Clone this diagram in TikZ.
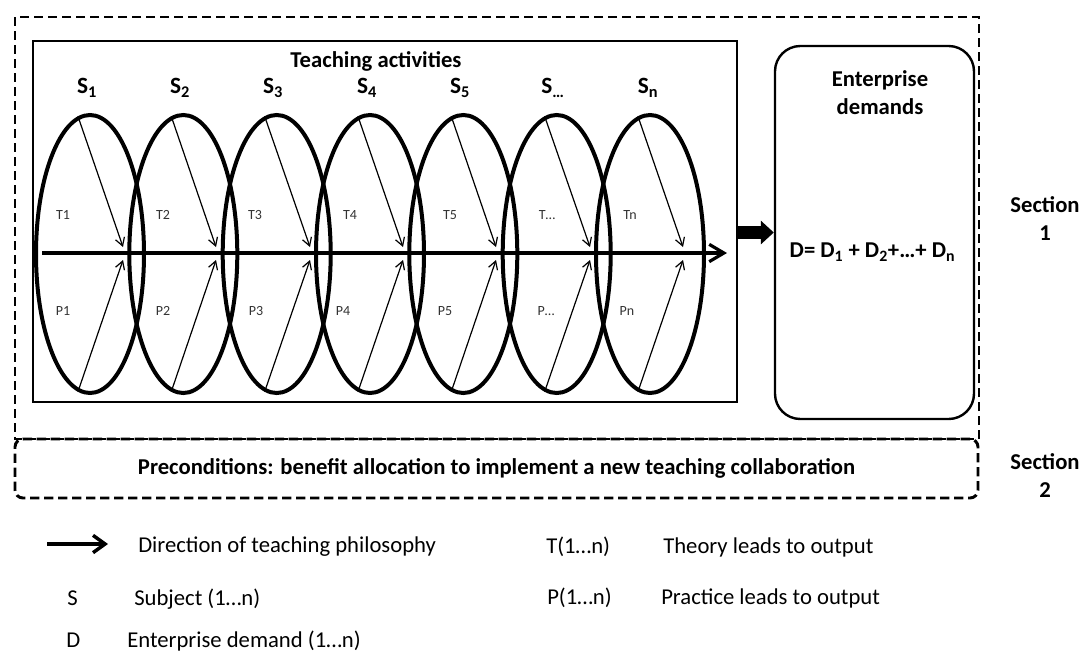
\documentclass[tikz,border=0pt]{standalone}
\usepackage{fontspec}
\setmainfont{Carlito}
\usetikzlibrary{shapes.geometric,arrows.meta}

\tikzset{
  subj/.style={draw, ellipse, line width=3pt, minimum width=81pt, minimum height=208.5pt, inner sep=0pt},
  leadarrow/.style={line width=0.9pt, -{Straight Barb[length=6pt,width=7pt]}},
  lbl/.style={inner sep=0.75pt, font=\fontsize{10.5}{12}\selectfont, text=black!80},
  head/.style={inner sep=0.75pt, font=\fontsize{17}{21}\selectfont\bfseries, align=center},
  subjlbl/.style={inner sep=0.75pt, font=\fontsize{17.5}{20}\selectfont\bfseries},
  legend/.style={anchor=base west, inner sep=0.75pt, font=\fontsize{17}{20}\selectfont},
  dashbox/.style={draw, line width=2.2pt, dash pattern=on 7pt off 3.5pt},
}

\begin{document}
\begin{tikzpicture}[x=0.75pt,y=0.75pt,yscale=-1,xscale=1]
\useasboundingbox (0,0) rectangle (1089,651);

%Section 1 frame
\draw [dashbox] (15,17) rectangle (979,439) ;
%Section 2 frame
\node [dashbox, rounded corners=6pt, minimum width=722.25pt, minimum height=44.25pt, head] (pre) at (496.5,468.5) {Preconditions: benefit allocation to implement a new teaching collaboration};

%Teaching activities box
\node [draw, line width=2.2pt, minimum width=528pt, minimum height=270.75pt] (ta) at (385,221.5) {};
% Text Node
\node [head] (tatitle) at (376,61) {Teaching activities};

%Shape: Ellipses (subjects)
\node [subj] (s1) at (90,254) {};
\node [subj] (s2) at (183.3,254) {};
\node [subj] (s3) at (276.7,254) {};
\node [subj] (s4) at (370,254) {};
\node [subj] (s5) at (463.3,254) {};
\node [subj] (s6) at (556.7,254) {};
\node [subj] (s7) at (650,254) {};

% Text Node
\node [subjlbl] (l1) at (87,88) {S\textsubscript{1}};
\node [subjlbl] (l2) at (180,88) {S\textsubscript{2}};
\node [subjlbl] (l3) at (273,88) {S\textsubscript{3}};
\node [subjlbl] (l4) at (367,88) {S\textsubscript{4}};
\node [subjlbl] (l5) at (460,88) {S\textsubscript{5}};
\node [subjlbl] (l6) at (553,88) {S\textsubscript{…}};
\node [subjlbl] (l7) at (648,88) {S\textsubscript{n}};

%Straight Lines: direction of teaching
\coordinate (flowin) at (42,253);
\coordinate (flowout) at (727,253);
\draw [line width=2.4pt, -{Straight Barb[length=11pt,width=13pt]}] (flowin) -- (flowout) ;

%Straight Lines: theory and practice
\coordinate (t1end) at (123,247);  \coordinate (p1end) at (123,260);
\coordinate (t2end) at (216,247);  \coordinate (p2end) at (216,260);
\coordinate (t3end) at (310,247);  \coordinate (p3end) at (310,260);
\coordinate (t4end) at (403,247);  \coordinate (p4end) at (403,260);
\coordinate (t5end) at (496,247);  \coordinate (p5end) at (496,260);
\coordinate (t6end) at (590,247);  \coordinate (p6end) at (590,260);
\coordinate (t7end) at (683,247);  \coordinate (p7end) at (683,260);
\draw [leadarrow] (s1.95) -- (t1end) ;  \draw [leadarrow] (s1.265) -- (p1end) ;
\draw [leadarrow] (s2.95) -- (t2end) ;  \draw [leadarrow] (s2.265) -- (p2end) ;
\draw [leadarrow] (s3.95) -- (t3end) ;  \draw [leadarrow] (s3.265) -- (p3end) ;
\draw [leadarrow] (s4.95) -- (t4end) ;  \draw [leadarrow] (s4.265) -- (p4end) ;
\draw [leadarrow] (s5.95) -- (t5end) ;  \draw [leadarrow] (s5.265) -- (p5end) ;
\draw [leadarrow] (s6.95) -- (t6end) ;  \draw [leadarrow] (s6.265) -- (p6end) ;
\draw [leadarrow] (s7.95) -- (t7end) ;  \draw [leadarrow] (s7.265) -- (p7end) ;

% Text Node
\node [lbl] (th1) at (63,215) {T1};   \node [lbl] (pr1) at (63,311) {P1};
\node [lbl] (th2) at (163,215) {T2};  \node [lbl] (pr2) at (163,311) {P2};
\node [lbl] (th3) at (255,215) {T3};  \node [lbl] (pr3) at (256,311) {P3};
\node [lbl] (th4) at (350,215) {T4};  \node [lbl] (pr4) at (343,311) {P4};
\node [lbl] (th5) at (450,215) {T5};  \node [lbl] (pr5) at (445,311) {P5};
\node [lbl] (th6) at (547,215) {T…};  \node [lbl] (pr6) at (546,311) {P…};
\node [lbl] (th7) at (630,215) {Tn};  \node [lbl] (pr7) at (627,311) {Pn};

%Rounded Rect: enterprise demands
\node [draw, line width=1.8pt, rounded corners=19pt, minimum width=149.25pt, minimum height=279.75pt] (ed) at (874.5,232.5) {};
% Text Node
\node [head] (edtitle) at (880,92.5) {Enterprise\\demands};
\node [head] (dsum) at (872.5,252) {D= D\textsubscript{1} + D\textsubscript{2}+…+ D\textsubscript{n}};

%Block arrow
\draw [line width=9.75pt, -{Triangle[length=9.75pt,width=17.25pt]}] (ta.east |- ed.west) -- (ed.west) ;

% Text Node
\node [head] (sec1) at (1045,219) {Section\\1};
\node [head] (sec2) at (1045,475.5) {Section\\2};

%Legend
\coordinate (legfrom) at (47,544);
\coordinate (legto) at (108,544);
\draw [line width=2.6pt, -{Straight Barb[length=9pt,width=13pt]}] (legfrom) -- (legto) ;
\node [legend] (legdir) at (137,552) {Direction of teaching philosophy};
\node [legend] (legs) at (66,605) {S};
\node [legend] (legsubj) at (133,605) {Subject (1…n)};
\node [legend] (legd) at (65,647) {D};
\node [legend] (legdem) at (126,647) {Enterprise demand (1…n)};
\node [legend] (legt) at (545,553) {T(1…n)};
\node [legend] (legtheo) at (662,553) {Theory leads to output};
\node [legend] (legp) at (546,604) {P(1…n)};
\node [legend] (legprac) at (660,604) {Practice leads to output};

\end{tikzpicture}
\end{document}
